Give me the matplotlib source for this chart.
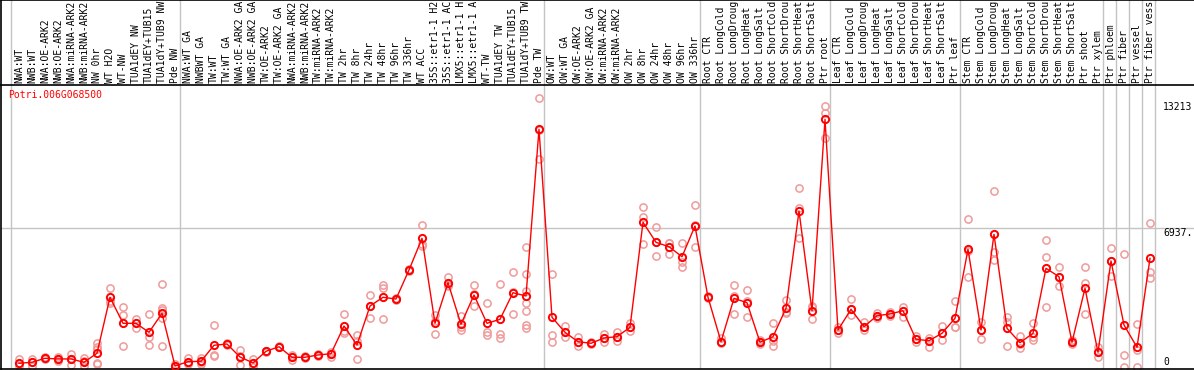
import matplotlib
matplotlib.use("Agg")
import matplotlib.pyplot as plt

gene = "Potri.006G068500"

labels = [
    "NWA:WT", "NWB:WT", "NWA:OE-ARK2", "NWB:OE-ARK2", "NWA:miRNA-ARK2", "NWB:miRNA-ARK2",
    "NW 0hr", "WT H2O", "WT-NW", "TUA1dEY NW", "TUA1dEY+TUB15", "TUA1dY+TUB9 NW", "Pde NW",
    "NWA:WT GA", "NWBWT GA", "TW:WT", "TW:WT GA", "NWA:OE-ARK2 GA", "NWB:OE-ARK2 GA",
    "TW:OE-ARK2", "TW:OE-ARK2 GA", "NWA:miRNA-ARK2", "NWB:miRNA-ARK2", "TW:miRNA-ARK2",
    "TW:miRNA-ARK2", "TW 2hr", "TW 8hr", "TW 24hr", "TW 48hr", "TW 96hr", "TW 336hr",
    "WT ACC", "35S::etr1-1 H2", "35S::etr1-1 AC", "LMX5::etr1-1 H", "LMX5::etr1-1 A",
    "WT-TW", "TUA1dEY TW", "TUA1dEY+TUB15", "TUA1dY+TUB9 TW", "Pde TW",
    "OW:WT", "OW:WT GA", "OW:OE-ARK2", "OW:OE-ARK2 GA", "OW:miRNA-ARK2", "OW:miRNA-ARK2",
    "OW 2hr", "OW 8hr", "OW 24hr", "OW 48hr", "OW 96hr", "OW 336hr",
    "Root CTR", "Root LongCold", "Root LongDroug", "Root LongHeat", "Root LongSalt",
    "Root ShortCold", "Root ShortDrou", "Root ShortHeat", "Root ShortSalt", "Ptr root",
    "Leaf CTR", "Leaf LongCold", "Leaf LongDroug", "Leaf LongHeat", "Leaf LongSalt",
    "Leaf ShortCold", "Leaf ShortDrou", "Leaf ShortHeat", "Leaf ShortSalt", "Ptr leaf",
    "Stem CTR", "Stem LongCold", "Stem LongDroug", "Stem LongHeat", "Stem LongSalt",
    "Stem ShortCold", "Stem ShortDrou", "Stem ShortHeat", "Stem ShortSalt", "Ptr shoot",
    "Ptr xylem", "Ptr phloem", "Ptr fiber", "Ptr vessel", "Ptr fiber vess",
]

means = [
    200, 250, 450, 415, 415, 250, 700, 3486, 2190, 2190, 1743, 2689, 65,
    280, 300, 1096, 1160, 513, 220, 797, 1026, 498, 498, 613, 677, 2057, 1110,
    3053, 3486, 3401, 4845, 6424, 2190, 4214, 2141, 3600, 2190, 2390, 3715, 3551, 11852,
    2490, 1743, 1275, 1195, 1459, 1524, 1992, 7221, 6225, 6006, 5508, 7037,
    3486, 1275, 3436, 3217, 1245, 1524, 2938, 7784, 2819, 12350,
    1857, 2888, 2022, 2570, 2654, 2819, 1394, 1325, 1693, 2440,
    5876, 1857, 6623, 1942, 1225, 1693, 4930, 4512, 1245, 3934, 747,
    5294, 2107, 996, 5428,
]

reps = [
    [400, 165, 65], [430, 80, 260], [530, 400, 450], [500, 315, 430], [660, 115, 400],
    [450, 80, 300], [1225, 1025, 900, 230, 165], [3934, 3300, 3220], [2988, 2590, 1060],
    [2405, 1972, 2190], [2640, 1494, 1096], [4148, 2938, 2853, 2440, 1060], [65, 30, 160],
    [478, 165, 200], [478, 165, 280], [2092, 613, 563], [1195, 1100, 1180], [862, 100, 550],
    [413, 0, 230], [780, 800, 810], [1060, 990, 1026], [598, 364, 498], [560, 440, 498],
    [650, 580, 613], [777, 528, 677], [2639, 1693, 1800], [1608, 398, 1330],
    [3586, 2440, 3053], [4099, 3964, 2405], [3450, 3350, 3401], [4900, 4800, 4845],
    [7072, 6140, 6060], [2605, 1658, 2300], [4512, 4099, 4030], [2555, 1857, 2010],
    [4099, 3053, 3650], [3217, 1773, 1608], [4148, 1658, 1444], [4746, 2640, 3760],
    [6006, 4646, 3815, 3217, 2819, 2107, 1942], [13396, 11800, 10358],
    [4646, 1608, 1275], [2057, 1494, 1743], [1494, 1061, 1275], [1250, 1140, 1195],
    [1643, 1245, 1459], [1743, 1325, 1524], [2191, 1823, 1992], [7968, 7500, 6140],
    [6972, 5543, 6225], [6205, 5642, 6190], [6205, 5259, 5010], [8068, 5976, 7067],
    [3530, 3440, 3486], [1444, 1200, 1275], [4084, 3566, 2654], [3850, 2490, 3300],
    [1360, 1170, 1245], [2191, 1076, 1300], [3352, 2770, 2700], [8914, 7918, 6424],
    [3018, 2390, 3050], [13012, 12649, 11404],
    [2000, 1700, 1857], [3386, 2605, 2888], [2271, 1857, 2022], [2700, 2450, 2570],
    [2750, 2550, 2654], [3018, 2520, 2819], [1550, 1250, 1394], [996, 1450, 1325],
    [2072, 1360, 1693], [3302, 2022, 1990],
    [7370, 4482, 5776], [2271, 1409, 1857], [8765, 5757, 5344], [2520, 1061, 2240],
    [1559, 976, 1140], [2191, 1360, 1530], [6340, 5478, 2988], [5010, 4064, 4512],
    [1350, 1150, 1245], [4980, 4214, 2639], [1026, 528, 747],
    [5926, 4562, 5294], [5642, 613, 30], [2141, 850, 0], [7171, 4731, 4432],
]

# first sample index of each block of samples
group_starts = [0, 13, 41, 53, 63, 73, 84, 85, 86, 87, 88]

right_ticks = [13213, 6937.5, 0]
right_labels = ["13213", "6937.", "0"]

W, H = 1194, 370
fig = plt.figure(figsize=(W / 100, H / 100), dpi=100)
mono = "DejaVu Sans Mono"

x0, step = 19, 13
xlim = ((1 - x0) / step, (W - x0) / step)
left = 1 / W

ax = fig.add_axes([left, 1 - 369 / H, 1 - left, (369 - 85) / H])
lax = fig.add_axes([left, 1 - 85 / H, 1 - left, 85 / H])

ylo = -85
yhi = 14060
ax.set_xlim(*xlim)
ax.set_ylim(ylo, yhi)
lax.set_xlim(*xlim)
lax.set_ylim(0, 1)

for a in (ax, lax):
    a.set_xticks([])
    a.set_yticks([])
    a.spines["right"].set_visible(False)
    for s in ("left", "top", "bottom"):
        a.spines[s].set_linewidth(1.2)
ax.spines["top"].set_visible(False)

grid_c = "#c4c4c4"
for g in group_starts:
    ax.axvline(g - 0.6, color=grid_c, lw=1, zorder=1)
    lax.axvline(g - 0.6, color=grid_c, lw=1, zorder=1)
ax.axhline(6937.5, color=grid_c, lw=1, zorder=1)

xs = list(range(len(labels)))
for i, r in enumerate(reps):
    ax.plot([i] * len(r), r, "o", ls="none", ms=5.2, mfc="none",
            mec="#f09a9a", mew=1.1, zorder=2)
ax.plot(xs, means, "-o", color="#ff0000", lw=1, ms=5.2, mfc="none",
        mec="#ff0000", mew=1.4, zorder=3)

for i, lab in enumerate(labels):
    lax.text(i, 2 / 85, lab, rotation=90, ha="center", va="bottom",
             fontsize=7, family=mono, color="black")

ax.text(-0.8, 13560, gene, color="#ff0000", fontsize=7, family=mono,
        ha="left", va="center")

for v, t in zip(right_ticks, right_labels):
    ax.text(88.0, v, t, fontsize=7, family=mono, ha="left",
            va="bottom" if v == 0 else "top", color="black")

fig.savefig("out.png", dpi=100)
